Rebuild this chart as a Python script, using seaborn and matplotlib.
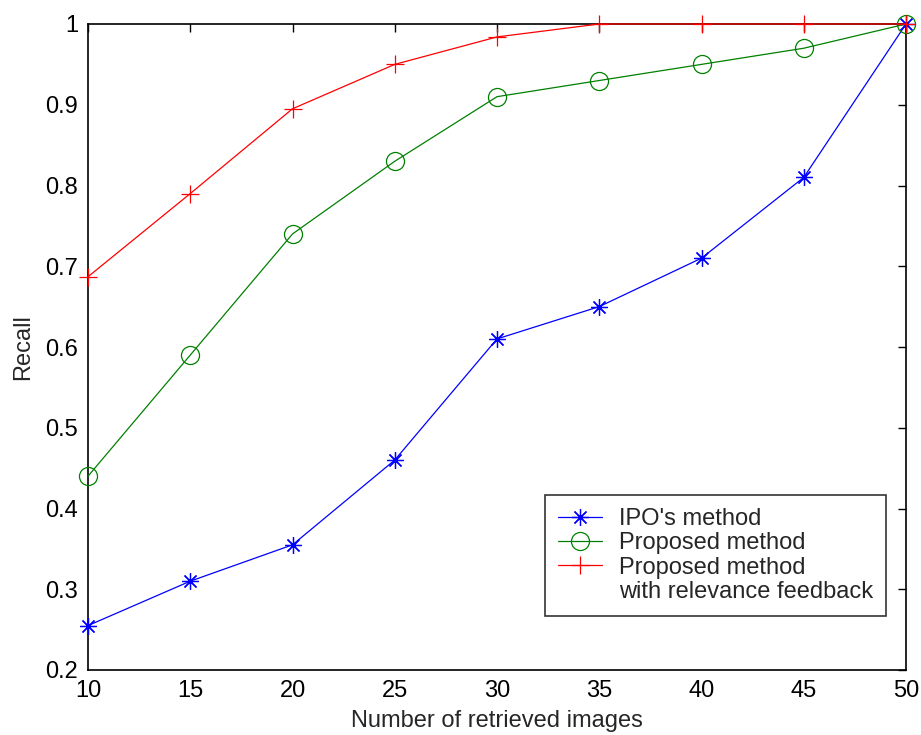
import matplotlib
matplotlib.use("Agg")
import matplotlib.pyplot as plt
from matplotlib.lines import Line2D
import seaborn as sns
import pandas as pd

x_vals = [10, 15, 20, 25, 30, 35, 40, 45, 50]
ipo = [0.255, 0.31, 0.355, 0.46, 0.61, 0.65, 0.71, 0.81, 1.0]
proposed = [0.44, 0.59, 0.74, 0.83, 0.91, 0.93, 0.95, 0.97, 1.0]
proposed_rf = [0.687, 0.79, 0.895, 0.95, 0.984, 1.0, 1.0, 1.0, 1.0]
labels = ["IPO's method", "Proposed method", "Proposed method", "with relevance feedback"]
y_ticks = [0.2, 0.3, 0.4, 0.5, 0.6, 0.7, 0.8, 0.9, 1.0]
y_ticklabels = ["0.2", "0.3", "0.4", "0.5", "0.6", "0.7", "0.8", "0.9", "1"]

sns.set_style("white")
plt.rcParams['font.family'] = ['Liberation Sans', 'DejaVu Sans']
FS = 17

fig = plt.figure(figsize=(9.21, 7.35), dpi=100)
ax = fig.add_axes([88/921, 65/735, (906-88)/921, (670-24)/735])

df = pd.DataFrame({"x": x_vals, "ipo": ipo, "prop": proposed, "rf": proposed_rf})
sns.lineplot(data=df, x="x", y="ipo", ax=ax, color=(0, 0, 1), lw=0.9,
             marker=(8, 2, 0), markersize=12, markeredgewidth=0.9,
             markeredgecolor=(0, 0, 1), label=labels[0], clip_on=False, zorder=3)
sns.lineplot(data=df, x="x", y="prop", ax=ax, color=(0, 0.5, 0), lw=0.9,
             marker="o", markersize=13, markerfacecolor="none", markeredgewidth=0.9,
             markeredgecolor=(0, 0.5, 0), label=labels[1], clip_on=False, zorder=3)
sns.lineplot(data=df, x="x", y="rf", ax=ax, color=(1, 0, 0), lw=0.9,
             marker="+", markersize=13, markeredgewidth=0.9,
             markeredgecolor=(1, 0, 0), label=labels[2], clip_on=False, zorder=3)

ax.set_xlim(10, 50)
ax.set_ylim(0.2, 1.0)
ax.set_xticks(x_vals)
ax.set_xticklabels([str(v) for v in x_vals])
ax.set_yticks(y_ticks)
ax.set_yticklabels(y_ticklabels)
ax.tick_params(direction="in", length=6, width=1, top=True, right=True,
               labelsize=FS, colors="black", pad=7)
for s in ax.spines.values():
    s.set_color("black")
    s.set_linewidth(1.2)
    s.set_zorder(2)
ax.set_xlabel("Number of retrieved images", fontsize=FS, labelpad=6)
ax.set_ylabel("Recall", fontsize=FS, labelpad=8)

handles, _ = ax.get_legend_handles_labels()
blank = Line2D([], [], linestyle="none", marker=None)
leg = ax.legend(handles[:3] + [blank], labels, loc="lower right",
                bbox_to_anchor=(886/921, 119/735),
                bbox_transform=fig.transFigure, fontsize=FS, frameon=True,
                fancybox=False, handlelength=1.9, borderpad=0.55,
                labelspacing=0.1, handletextpad=0.7, borderaxespad=0)
leg.get_frame().set_edgecolor("black")
leg.get_frame().set_linewidth(1.2)

fig.savefig("out.png", dpi=100)
